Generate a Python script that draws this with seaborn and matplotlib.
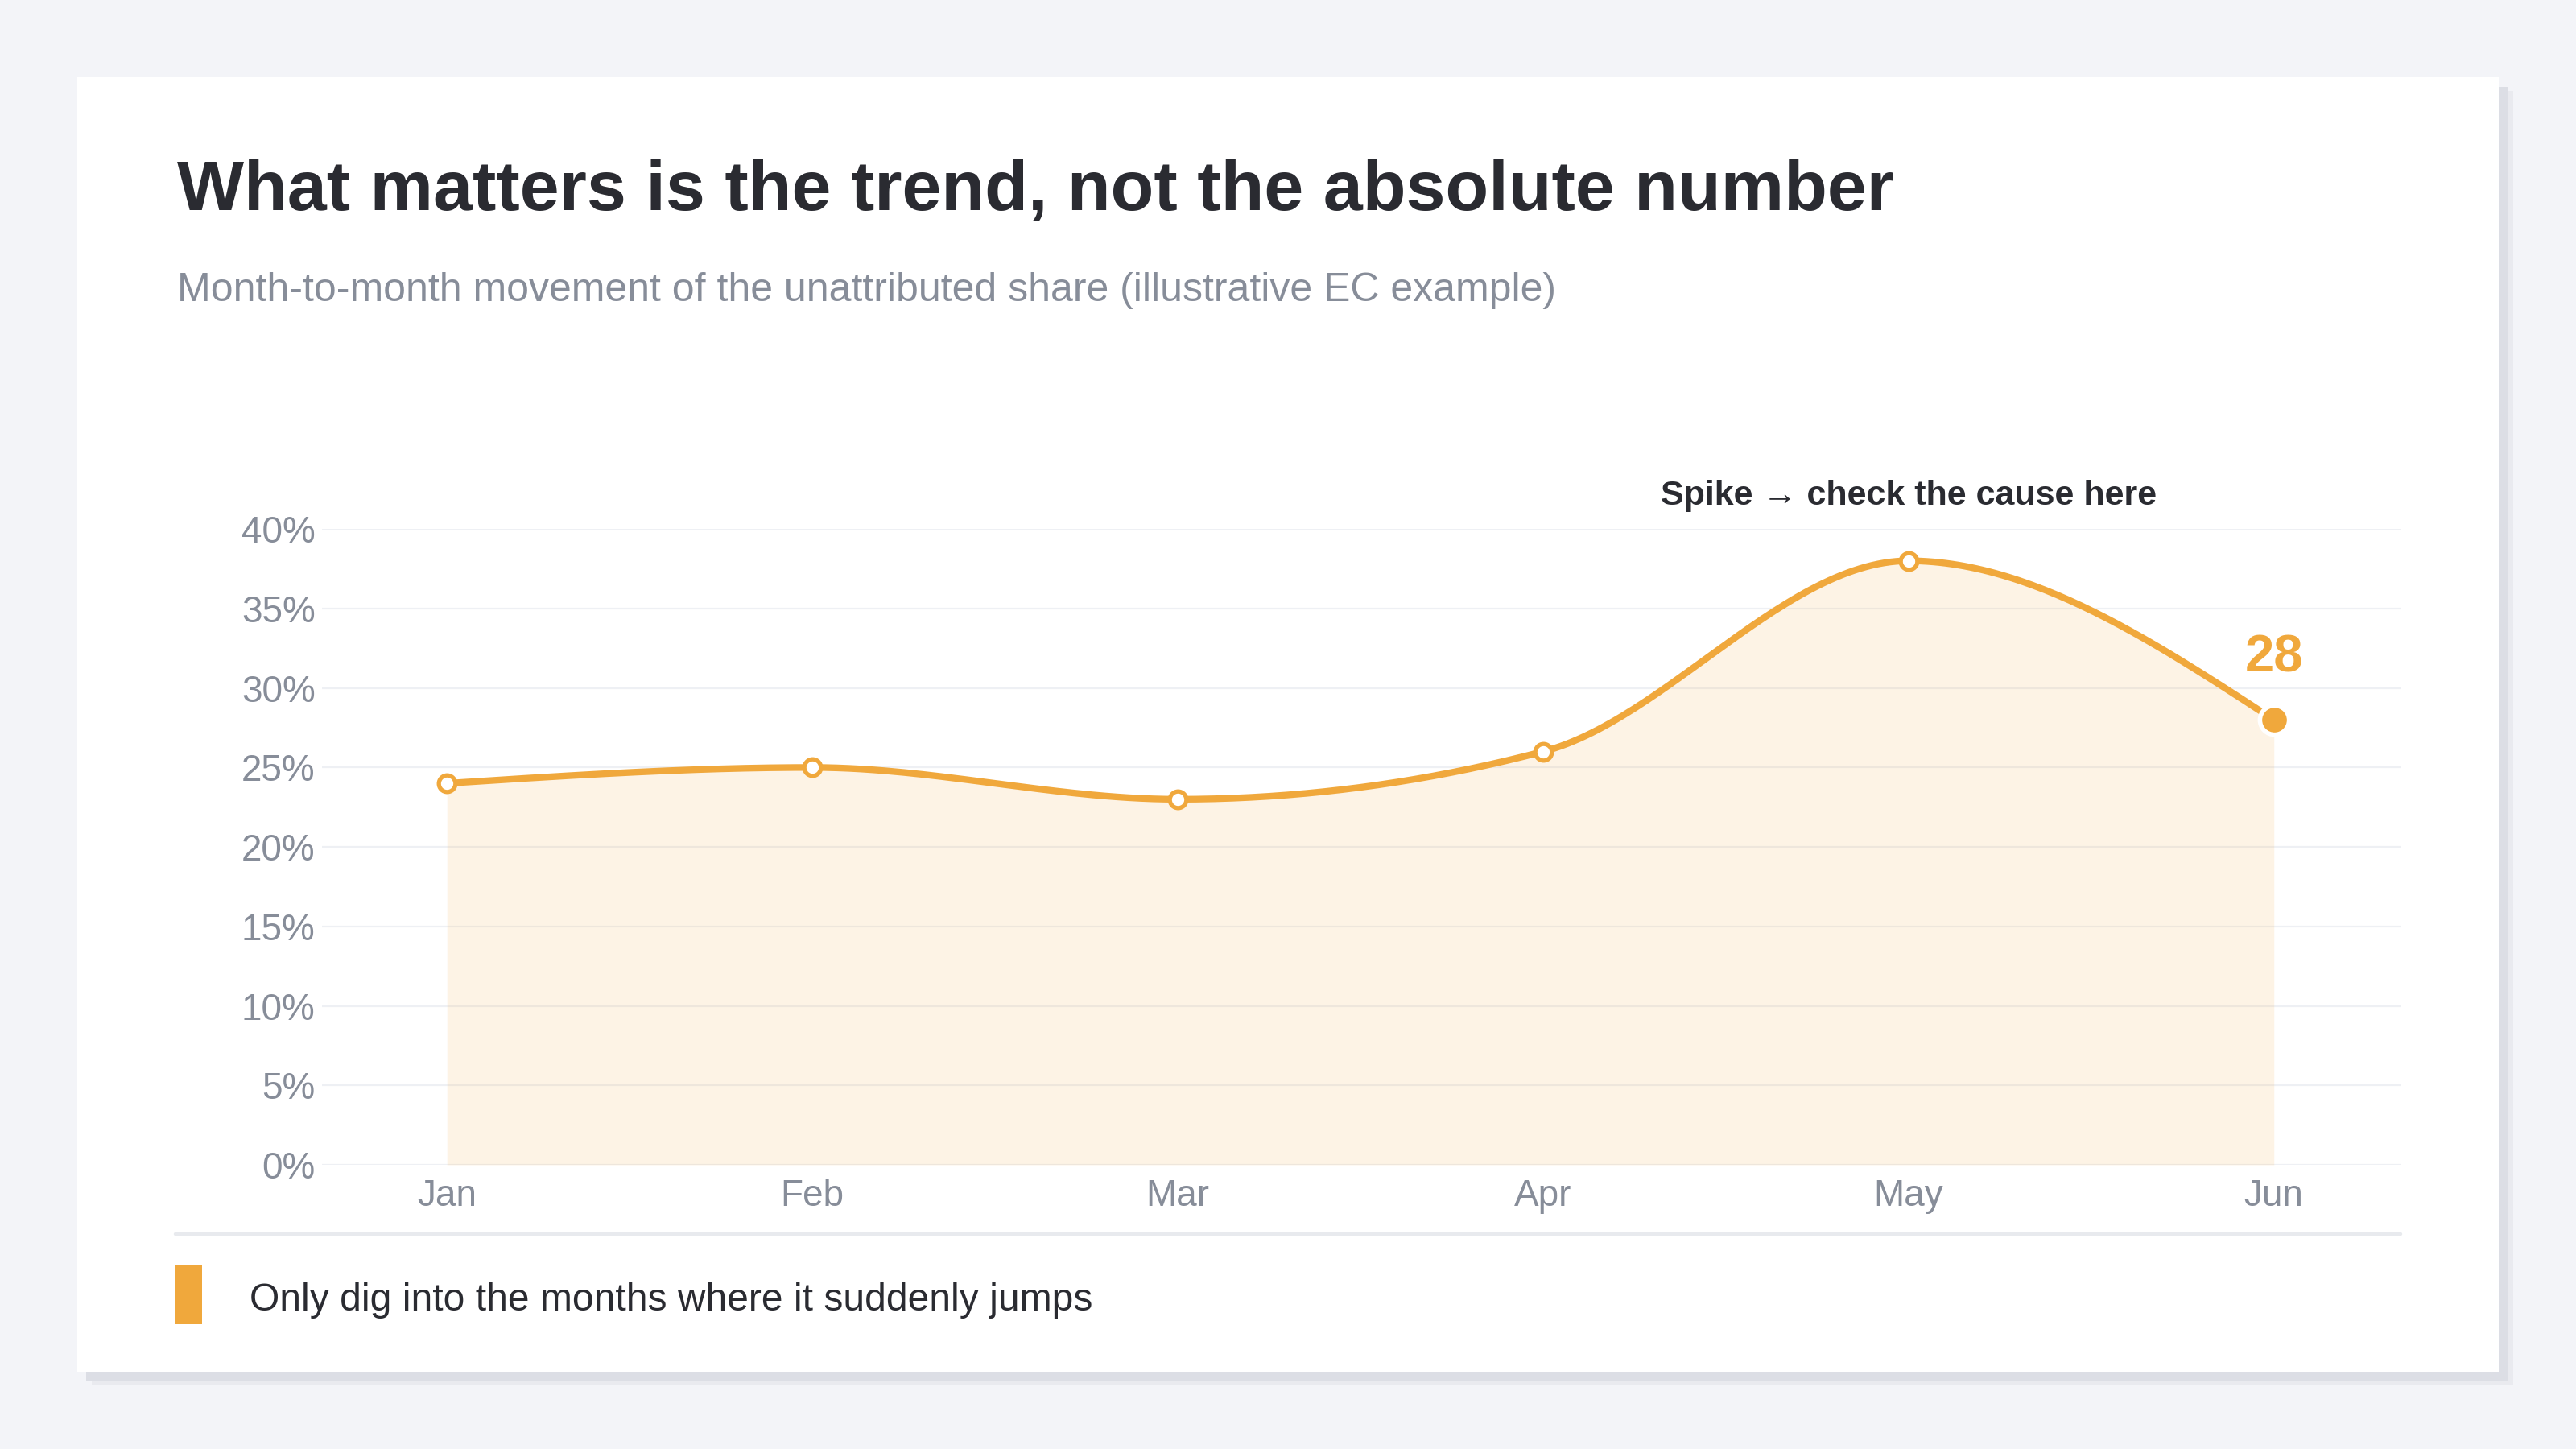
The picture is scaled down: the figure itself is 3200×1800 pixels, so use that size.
import numpy as np
import pandas as pd
import matplotlib
matplotlib.use("Agg")
import matplotlib.pyplot as plt
from matplotlib.patches import Rectangle
from matplotlib.lines import Line2D
import seaborn as sns

# ---- data ----
months = ["Jan", "Feb", "Mar", "Apr", "May", "Jun"]
share = [24, 25, 23, 26, 38, 28]
y_ticks = [0, 5, 10, 15, 20, 25, 30, 35, 40]
y_tick_labels = ["0%", "5%", "10%", "15%", "20%", "25%", "30%", "35%", "40%"]
title = "What matters is the trend, not the absolute number"
subtitle = "Month-to-month movement of the unattributed share (illustrative EC example)"
annotation = "Spike \u2192 check the cause here"
last_label = "28"
legend_text = "Only dig into the months where it suddenly jumps"

ORANGE = "#f0a83c"
DARK = "#2a2b31"
GRAY = "#878d99"
GRID = "#eef0f4"
BG = "#f3f4f8"

sns.set_theme(style="white")
plt.rcParams["font.family"] = ["Liberation Sans", "DejaVu Sans"]


def monotone_curve(xs, ys, n=60):
    xs = np.asarray(xs, float)
    ys = np.asarray(ys, float)
    m = len(xs)
    h = np.diff(xs)
    s = np.diff(ys) / h
    t = np.zeros(m)
    for i in range(1, m - 1):
        s0, s1 = s[i - 1], s[i]
        p = (s0 * h[i] + s1 * h[i - 1]) / (h[i - 1] + h[i])
        t[i] = (np.sign(s0) + np.sign(s1)) * min(abs(s0), abs(s1), 0.5 * abs(p))
    t[0] = (3 * s[0] - t[1]) / 2
    t[-1] = (3 * s[-1] - t[-2]) / 2
    out_x, out_y = [], []
    for i in range(m - 1):
        x0, x1, y0, y1 = xs[i], xs[i + 1], ys[i], ys[i + 1]
        dx = (x1 - x0) / 3
        p0 = np.array([x0, y0])
        p1 = np.array([x0 + dx, y0 + dx * t[i]])
        p2 = np.array([x1 - dx, y1 - dx * t[i + 1]])
        p3 = np.array([x1, y1])
        u = np.linspace(0, 1, n, endpoint=(i == m - 2))[:, None]
        pts = ((1 - u) ** 3) * p0 + 3 * ((1 - u) ** 2) * u * p1 + 3 * (1 - u) * u ** 2 * p2 + u ** 3 * p3
        out_x.extend(pts[:, 0])
        out_y.extend(pts[:, 1])
    return np.array(out_x), np.array(out_y)


xpos = np.arange(len(months))
cx, cy = monotone_curve(xpos, share)
curve_df = pd.DataFrame({"x": cx, "y": cy})
pts_df = pd.DataFrame({"x": xpos, "y": share, "month": months})

fig = plt.figure(figsize=(16, 9), dpi=200, facecolor=BG)

# card shadow + card
fig.patches.append(Rectangle((0.0300 + 0.0055, 0.0533 - 0.0095), 0.9400, 0.8934,
                             transform=fig.transFigure, facecolor="#e9eaef", edgecolor="none", zorder=-3))
fig.patches.append(Rectangle((0.0300 + 0.0035, 0.0533 - 0.0065), 0.9400, 0.8934,
                             transform=fig.transFigure, facecolor="#dcdee5", edgecolor="none", zorder=-2))
fig.patches.append(Rectangle((0.0300, 0.0533), 0.9400, 0.8934,
                             transform=fig.transFigure, facecolor="white", edgecolor="none", zorder=-1))

ax = fig.add_axes([0.125, 0.1961, 0.9318 - 0.125, 0.6349 - 0.1961])
ax.set_zorder(1)
ax.set_facecolor("none")

ax.fill_between(cx, 0, cy, color=ORANGE, alpha=0.13, linewidth=0, zorder=2)
sns.lineplot(data=curve_df, x="x", y="y", ax=ax, color=ORANGE, linewidth=3.0,
             zorder=3, sort=False, estimator=None)
ax.lines[-1].set_clip_on(False)
ax.lines[-1].set_solid_capstyle("round")
sns.scatterplot(data=pts_df.iloc[:-1], x="x", y="y", ax=ax, s=55, color="white",
                edgecolor=ORANGE, linewidth=1.9, zorder=4, clip_on=False)
sns.scatterplot(data=pts_df.iloc[-1:], x="x", y="y", ax=ax, s=170, color=ORANGE,
                edgecolor="white", linewidth=2.0, zorder=5, clip_on=False)

ax.set_xlim(-0.342, 5.346)
ax.set_ylim(0, 40)
ax.set_yticks(y_ticks)
ax.set_yticklabels(y_tick_labels)
ax.set_xticks(xpos)
ax.set_xticklabels(months)
ax.set_xlabel("")
ax.set_ylabel("")
ax.grid(axis="y", color=GRID, linewidth=0.8, zorder=1)
ax.set_axisbelow(True)
for sp in ax.spines.values():
    sp.set_visible(False)
ax.tick_params(axis="y", length=0, pad=3, labelsize=16.5, labelcolor=GRAY)
ax.tick_params(axis="x", length=0, pad=6, labelsize=16.5, labelcolor=GRAY)

# annotations
ax.text(4, 41.55, annotation, ha="center", va="baseline", fontsize=15.5,
        fontweight="bold", color=DARK, clip_on=False)
ax.text(5, 31.0, last_label, ha="center", va="baseline", fontsize=23.5,
        fontweight="bold", color=ORANGE, clip_on=False)

# title & subtitle
fig.text(0.0689, 0.8550, title, ha="left", va="baseline", fontsize=31.7,
         fontweight="bold", color=DARK)
fig.text(0.0689, 0.7925, subtitle, ha="left", va="baseline", fontsize=18.0,
         color=GRAY)

# separator and legend note
fig.add_artist(Line2D([0.0682, 0.9318], [0.1485, 0.1485], transform=fig.transFigure,
                      color="#e8eaee", linewidth=1.6))
fig.patches.append(Rectangle((0.0682, 0.0862), 0.0102, 0.0408, transform=fig.transFigure,
                             facecolor=ORANGE, edgecolor="none"))
fig.text(0.0969, 0.1025, legend_text, ha="left", va="center", fontsize=17.3, color=DARK)

fig.savefig("out.png", dpi=200, facecolor=BG)
